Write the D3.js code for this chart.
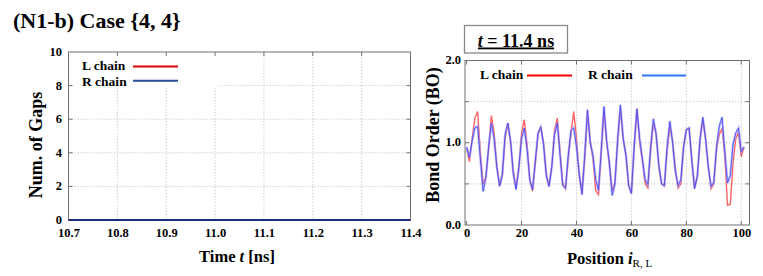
<!DOCTYPE html>
<html>
<head>
<meta charset="utf-8">
<script src="https://cdn.jsdelivr.net/npm/d3@7"></script>
<style>
  body { margin: 0; background: #fff; }
  svg text { font-family: "Liberation Serif", "Times New Roman", serif; font-weight: bold; fill: #000; }
  .grid line { stroke: #c4c4c4; stroke-dasharray: 1.2,1.8; stroke-width: 1; }
  .frame { fill: none; stroke: #707070; stroke-width: 1; }
</style>
</head>
<body>
<div id="container"></div>
<script>
// panel izquierdo: numero de huecos en el tiempo
var gapTimes = [10.7, 10.8, 10.9, 11.0, 11.1, 11.2, 11.3, 11.4];
var gapsL = [0, 0, 0, 0, 0, 0, 0, 0];
var gapsR = [0, 0, 0, 0, 0, 0, 0, 0];
var timeTicks = ["10.7", "10.8", "10.9", "11.0", "11.1", "11.2", "11.3", "11.4"];
var gapTicks = [0, 2, 4, 6, 8, 10];

// panel derecho: orden de enlace por posicion (t = 11.4 ns)
var boR = [0.95, 0.82, 1.02, 1.18, 1.20, 0.80, 0.41, 0.58, 0.95, 1.24,
           1.05, 0.70, 0.47, 0.62, 1.10, 1.24, 1.02, 0.62, 0.43, 0.70,
           1.05, 1.18, 0.92, 0.55, 0.43, 0.78, 1.12, 1.19, 0.98, 0.60,
           0.47, 0.70, 1.10, 1.24, 0.85, 0.48, 0.45, 0.85, 1.15, 1.18,
           0.95, 0.62, 0.37, 0.85, 1.40, 1.00, 0.85, 0.55, 0.42, 0.90,
           1.44, 1.02, 0.75, 0.36, 0.50, 1.05, 1.46, 1.05, 0.85, 0.48,
           0.38, 0.95, 1.41, 1.05, 0.80, 0.55, 0.49, 0.95, 1.29, 1.10,
           0.72, 0.50, 0.48, 0.95, 1.26, 1.00, 0.65, 0.48, 0.55, 0.95,
           1.16, 1.18, 0.78, 0.44, 0.60, 1.05, 1.31, 1.05, 0.70, 0.47,
           0.52, 0.95, 1.20, 1.31, 0.90, 0.51, 0.60, 0.98, 1.12, 1.18,
           0.89, 0.95];
var boL = [0.93, 0.77, 1.05, 1.30, 1.38, 0.88, 0.50, 0.58, 0.92, 1.33,
           1.12, 0.72, 0.48, 0.60, 1.05, 1.24, 1.00, 0.65, 0.45, 0.68,
           1.12, 1.28, 0.98, 0.55, 0.41, 0.75, 1.10, 1.20, 1.00, 0.62,
           0.47, 0.72, 1.15, 1.30, 0.90, 0.50, 0.44, 0.80, 1.12, 1.38,
           1.05, 0.60, 0.40, 0.80, 1.36, 1.02, 0.80, 0.42, 0.37, 0.88,
           1.40, 1.00, 0.72, 0.41, 0.52, 1.00, 1.42, 1.05, 0.85, 0.48,
           0.40, 0.95, 1.42, 1.00, 0.78, 0.50, 0.45, 0.90, 1.24, 1.12,
           0.70, 0.50, 0.47, 0.90, 1.20, 1.02, 0.68, 0.45, 0.50, 0.95,
           1.16, 1.18, 0.80, 0.46, 0.58, 1.02, 1.28, 1.05, 0.72, 0.44,
           0.50, 0.92, 1.10, 1.17, 0.85, 0.24, 0.25, 0.75, 1.05, 1.13,
           0.83, 0.95];
var posTicks = [0, 20, 40, 60, 80, 100];
var boGrid = [0.5, 1.0, 1.5];
var boLabels = [0.0, 1.0, 2.0];

var svg = d3.select("#container").append("svg")
    .attr("width", 763)
    .attr("height", 276);

// titulo general
svg.append("text")
    .attr("x", 13).attr("y", 28)
    .style("font-size", "22px")
    .text("(N1-b) Case {4, 4}");

// ---------- panel izquierdo ----------
var x1 = d3.scaleLinear().domain([10.7, 11.4]).range([68.5, 410.5]);
var y1 = d3.scaleLinear().domain([0, 10]).range([220, 52]);

var g1 = svg.append("g");
var grid1 = g1.append("g").attr("class", "grid");
grid1.selectAll(".vx").data(gapTimes.slice(1, -1)).enter().append("line")
    .attr("x1", function (d) { return x1(d); }).attr("x2", function (d) { return x1(d); })
    .attr("y1", y1(10)).attr("y2", y1(0));
grid1.selectAll(".hy").data(gapTicks.slice(1, -1)).enter().append("line")
    .attr("x1", x1(10.7)).attr("x2", x1(11.4))
    .attr("y1", function (d) { return y1(d); }).attr("y2", function (d) { return y1(d); });

// fondo blanco de la leyenda
g1.append("rect")
    .attr("x", 69.5).attr("y", 52.5).attr("width", 149).attr("height", 35.5)
    .attr("fill", "#fff");

g1.append("rect").attr("class", "frame")
    .attr("x", x1(10.7)).attr("y", y1(10))
    .attr("width", x1(11.4) - x1(10.7)).attr("height", y1(0) - y1(10));

// marcas interiores
gapTimes.slice(1, -1).forEach(function (t) {
    g1.append("line").attr("stroke", "#707070")
        .attr("x1", x1(t)).attr("x2", x1(t)).attr("y1", y1(10)).attr("y2", y1(10) + 4);
});
gapTicks.slice(1, -1).forEach(function (v) {
    g1.append("line").attr("stroke", "#707070")
        .attr("x1", x1(11.4)).attr("x2", x1(11.4) - 4).attr("y1", y1(v)).attr("y2", y1(v));
    g1.append("line").attr("stroke", "#707070")
        .attr("x1", x1(10.7)).attr("x2", x1(10.7) + 4).attr("y1", y1(v)).attr("y2", y1(v));
});

var line1 = d3.line()
    .x(function (d, i) { return x1(gapTimes[i]); })
    .y(function (d) { return y1(d); });
g1.append("path").datum(gapsL).attr("d", line1)
    .attr("fill", "none").attr("stroke", "#e00000").attr("stroke-width", 2);
g1.append("path").datum(gapsR).attr("d", line1)
    .attr("fill", "none").attr("stroke", "#1c2c84").attr("stroke-width", 2.2);

var ax1 = g1.append("g").attr("transform", "translate(0,225.5)")
    .call(d3.axisBottom(x1).tickValues(gapTimes).tickSize(0)
        .tickFormat(function (d, i) { return timeTicks[i]; }));
ax1.select(".domain").remove();
ax1.selectAll("text").style("font-size", "12.5px");

var ay1 = g1.append("g").attr("transform", "translate(65,-0.5)")
    .call(d3.axisLeft(y1).tickValues(gapTicks).tickSize(0));
ay1.select(".domain").remove();
ay1.selectAll("text").style("font-size", "12.5px");

g1.append("text")
    .attr("transform", "translate(41.5,145) rotate(-90)")
    .attr("text-anchor", "middle")
    .style("font-size", "18px")
    .text("Num. of Gaps");

var xl1 = g1.append("text")
    .attr("x", 237).attr("y", 262)
    .attr("text-anchor", "middle")
    .style("font-size", "16.5px");
xl1.append("tspan").text("Time ");
xl1.append("tspan").style("font-style", "italic").text("t");
xl1.append("tspan").text(" [ns]");

// leyenda izquierda
g1.append("text").attr("x", 82).attr("y", 70).style("font-size", "13.5px").text("L chain");
g1.append("line").attr("x1", 133).attr("x2", 178).attr("y1", 66.5).attr("y2", 66.5)
    .attr("stroke", "#e00000").attr("stroke-width", 2);
g1.append("text").attr("x", 82).attr("y", 85.5).style("font-size", "13.5px").text("R chain");
g1.append("line").attr("x1", 133).attr("x2", 178).attr("y1", 80.8).attr("y2", 80.8)
    .attr("stroke", "#2a4a9a").attr("stroke-width", 2);

// ---------- panel derecho ----------
var x2 = d3.scaleLinear().domain([-0.6, 103]).range([465, 749.5]);
var y2 = d3.scaleLinear().domain([0, 2]).range([225, 60.5]);

var g2 = svg.append("g");
var grid2 = g2.append("g").attr("class", "grid");
grid2.selectAll(".vx").data(posTicks.slice(1)).enter().append("line")
    .attr("x1", function (d) { return x2(d); }).attr("x2", function (d) { return x2(d); })
    .attr("y1", y2(2)).attr("y2", y2(0));
grid2.selectAll(".hy").data(boGrid).enter().append("line")
    .attr("x1", x2(-0.6)).attr("x2", x2(103))
    .attr("y1", function (d) { return y2(d); }).attr("y2", function (d) { return y2(d); });

g2.append("rect").attr("class", "frame")
    .attr("x", x2(-0.6)).attr("y", y2(2))
    .attr("width", x2(103) - x2(-0.6)).attr("height", y2(0) - y2(2));

posTicks.forEach(function (p) {
    g2.append("line").attr("stroke", "#707070")
        .attr("x1", x2(p)).attr("x2", x2(p)).attr("y1", y2(0)).attr("y2", y2(0) - 4);
    g2.append("line").attr("stroke", "#707070")
        .attr("x1", x2(p)).attr("x2", x2(p)).attr("y1", y2(2)).attr("y2", y2(2) + 4);
});
boGrid.forEach(function (v) {
    g2.append("line").attr("stroke", "#707070")
        .attr("x1", x2(103)).attr("x2", x2(103) - 4).attr("y1", y2(v)).attr("y2", y2(v));
    g2.append("line").attr("stroke", "#707070")
        .attr("x1", x2(-0.6)).attr("x2", x2(-0.6) + 4).attr("y1", y2(v)).attr("y2", y2(v));
});

var line2 = d3.line()
    .x(function (d, i) { return x2(i); })
    .y(function (d) { return y2(d); });
g2.append("path").datum(boL).attr("d", line2)
    .attr("fill", "none").attr("stroke", "#ff3030").attr("stroke-opacity", 0.75).attr("stroke-width", 1.4);
g2.append("path").datum(boR).attr("d", line2)
    .attr("fill", "none").attr("stroke", "#9a9aff").attr("stroke-opacity", 0.6).attr("stroke-width", 2.4);
g2.append("path").datum(boR).attr("d", line2)
    .attr("fill", "none").attr("stroke", "#4848f0").attr("stroke-opacity", 0.85).attr("stroke-width", 1);

var ax2 = g2.append("g").attr("transform", "translate(0,225)")
    .call(d3.axisBottom(x2).tickValues(posTicks).tickSize(0));
ax2.select(".domain").remove();
ax2.selectAll("text").style("font-size", "12.5px");

var ay2 = g2.append("g").attr("transform", "translate(464,-1)")
    .call(d3.axisLeft(y2).tickValues(boLabels).tickSize(0).tickFormat(d3.format(".1f")));
ay2.select(".domain").remove();
ay2.selectAll("text").style("font-size", "12.5px");

g2.append("text")
    .attr("transform", "translate(439,135) rotate(-90)")
    .attr("text-anchor", "middle")
    .style("font-size", "18px")
    .text("Bond Order (BO)");

var xl2 = g2.append("text")
    .attr("x", 567).attr("y", 264)
    .style("font-size", "16.5px");
xl2.append("tspan").text("Position ");
xl2.append("tspan").style("font-style", "italic").text("i");
xl2.append("tspan").attr("dy", 3).style("font-size", "11px").style("font-weight", "normal").text("R, L");

// leyenda derecha
g2.append("text").attr("x", 480).attr("y", 78.5).style("font-size", "13.5px").text("L chain");
g2.append("line").attr("x1", 527).attr("x2", 572).attr("y1", 75.5).attr("y2", 75.5)
    .attr("stroke", "#ff0000").attr("stroke-width", 2);
g2.append("text").attr("x", 588).attr("y", 78.5).style("font-size", "13.5px").text("R chain");
g2.append("line").attr("x1", 642).attr("x2", 686).attr("y1", 75.5).attr("y2", 75.5)
    .attr("stroke", "#2a78ff").attr("stroke-width", 2);

// caja del tiempo
g2.append("rect")
    .attr("x", 464.5).attr("y", 25.5).attr("width", 103).attr("height", 27.5)
    .attr("fill", "#fff").attr("stroke", "#888").attr("stroke-width", 1.3);
var tt = g2.append("text")
    .attr("x", 516).attr("y", 46.5)
    .attr("text-anchor", "middle")
    .style("font-size", "18px")
    .style("text-decoration", "underline");
tt.append("tspan").style("font-style", "italic").text("t");
tt.append("tspan").text(" = 11.4 ns");
</script>
</body>
</html>
